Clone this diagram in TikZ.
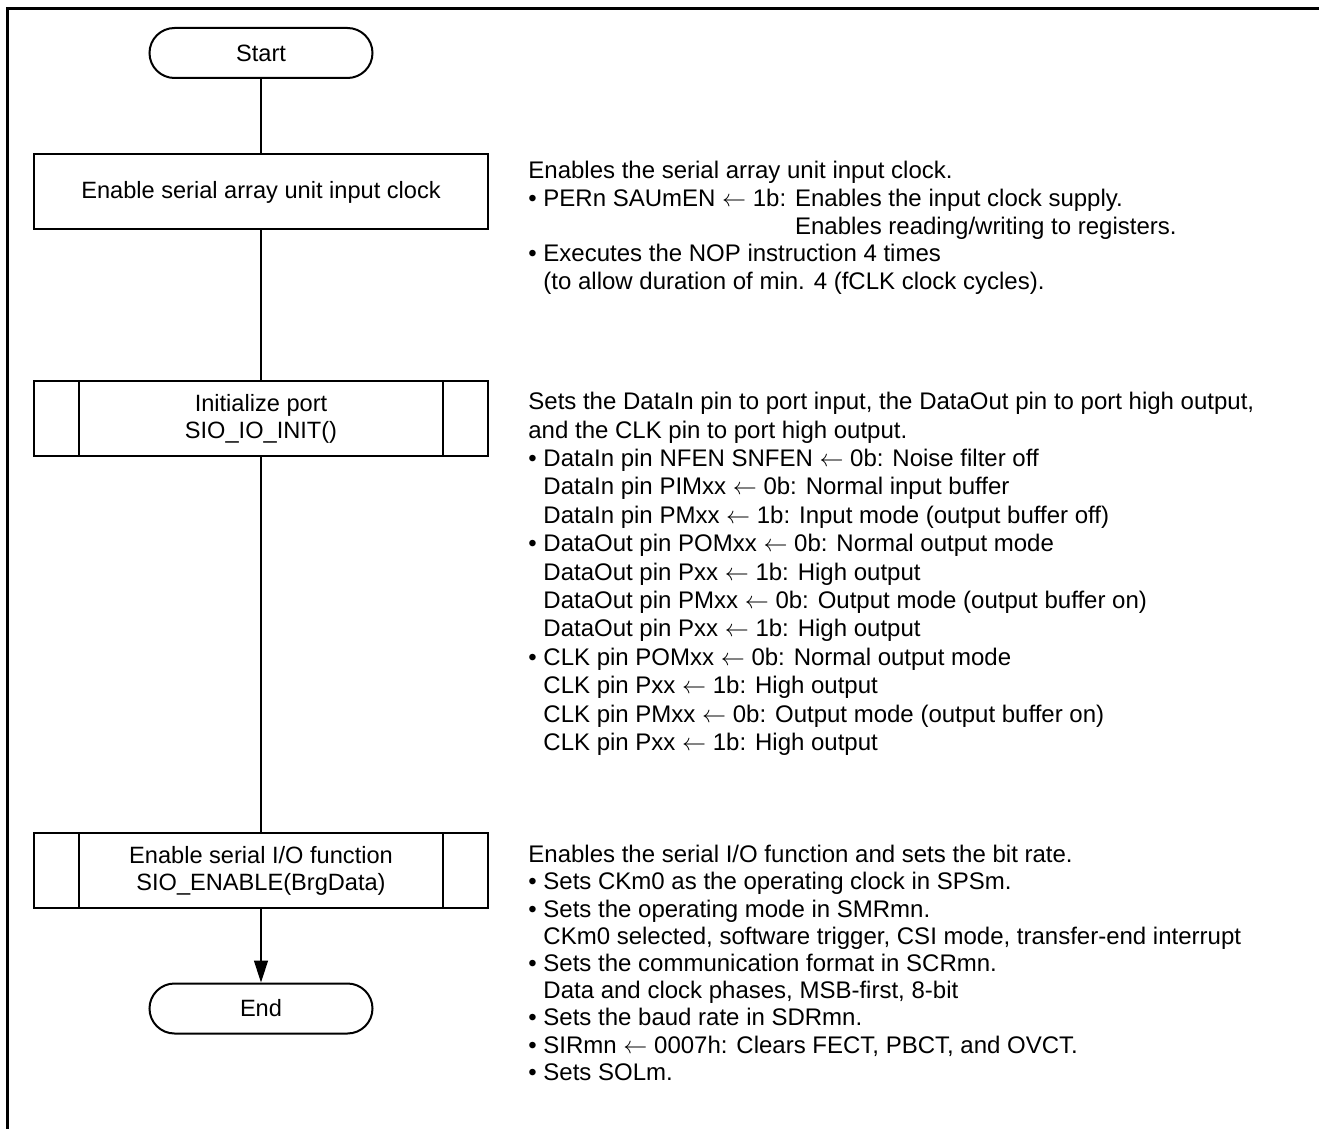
\documentclass[tikz,border=0pt]{standalone}
\usepackage{fontspec}
\setmainfont{Liberation Sans}
\usetikzlibrary{arrows.meta}

\begin{document}
\begin{tikzpicture}[x=0.5pt,y=-0.5pt,
  term/.style={draw,line width=1pt,rounded corners=12.5pt,minimum width=111.5pt,minimum height=25pt,font=\fontsize{11.8}{13.5}\selectfont},
  proc/.style={draw,line width=1pt,minimum width=227pt,minimum height=37.5pt,align=center,font=\fontsize{11.8}{13.5}\selectfont},
  note/.style={anchor=north west,inner sep=0pt,align=left,font=\fontsize{12}{13.85}\selectfont},
  link/.style={line width=0.75pt}]
  \useasboundingbox (0,0) rectangle (1319,1129);
  \draw[line width=1.5pt] (7,1129) -- (7,9) -- (1319,9);

  \node[term] (start) at (261,53) {Start};
  \node[proc] (clockon) at (261,192) {Enable serial array unit input clock};
  \node[proc] (portinit) at (261,418.5) {Initialize port\\SIO\_IO\_INIT()};
  \node[proc] (sioenable) at (261,870.5) {Enable serial I/O function\\SIO\_ENABLE(BrgData)};
  \node[term] (stop) at (261,1008.5) {End};

  \foreach \n in {portinit,sioenable} {
    \draw[line width=1pt] ([xshift=23pt]\n.north west) -- ([xshift=23pt]\n.south west);
    \draw[line width=1pt] ([xshift=-23pt]\n.north east) -- ([xshift=-23pt]\n.south east);
  }

  \draw[link] (start) -- (clockon);
  \draw[link] (clockon) -- (portinit);
  \draw[link] (portinit) -- (sioenable);
  \draw[link,-{Triangle[length=11pt,width=7pt]}] (sioenable) -- (stop);

  \node[note] (noteclock) at (528,161) {Enables the serial array unit input clock.\\
    • PERn SAUmEN $\leftarrow$ 1b: Enables the input clock supply.\\
    \hphantom{• PERn SAUmEN $\leftarrow$ 1b: }Enables reading/writing to registers.\\
    • Executes the NOP instruction 4 times\\
    \hphantom{• }(to allow duration of min. 4 (fCLK clock cycles).};
  \node[note,font=\fontsize{12}{14.2}\selectfont] (noteport) at (528,392) {Sets the DataIn pin to port input, the DataOut pin to port high output,\\
    and the CLK pin to port high output.\\
    • DataIn pin NFEN SNFEN $\leftarrow$ 0b: Noise filter off\\
    \hphantom{• }DataIn pin PIMxx $\leftarrow$ 0b: Normal input buffer\\
    \hphantom{• }DataIn pin PMxx $\leftarrow$ 1b: Input mode (output buffer off)\\
    • DataOut pin POMxx $\leftarrow$ 0b: Normal output mode\\
    \hphantom{• }DataOut pin Pxx $\leftarrow$ 1b: High output\\
    \hphantom{• }DataOut pin PMxx $\leftarrow$ 0b: Output mode (output buffer on)\\
    \hphantom{• }DataOut pin Pxx $\leftarrow$ 1b: High output\\
    • CLK pin POMxx $\leftarrow$ 0b: Normal output mode\\
    \hphantom{• }CLK pin Pxx $\leftarrow$ 1b: High output\\
    \hphantom{• }CLK pin PMxx $\leftarrow$ 0b: Output mode (output buffer on)\\
    \hphantom{• }CLK pin Pxx $\leftarrow$ 1b: High output};
  \node[note,font=\fontsize{12}{13.6}\selectfont] (notesio) at (528,845) {Enables the serial I/O function and sets the bit rate.\\
    • Sets CKm0 as the operating clock in SPSm.\\
    • Sets the operating mode in SMRmn.\\
    \hphantom{• }CKm0 selected, software trigger, CSI mode, transfer-end interrupt\\
    • Sets the communication format in SCRmn.\\
    \hphantom{• }Data and clock phases, MSB-first, 8-bit\\
    • Sets the baud rate in SDRmn.\\
    • SIRmn $\leftarrow$ 0007h: Clears FECT, PBCT, and OVCT.\\
    • Sets SOLm.};
\end{tikzpicture}
\end{document}
